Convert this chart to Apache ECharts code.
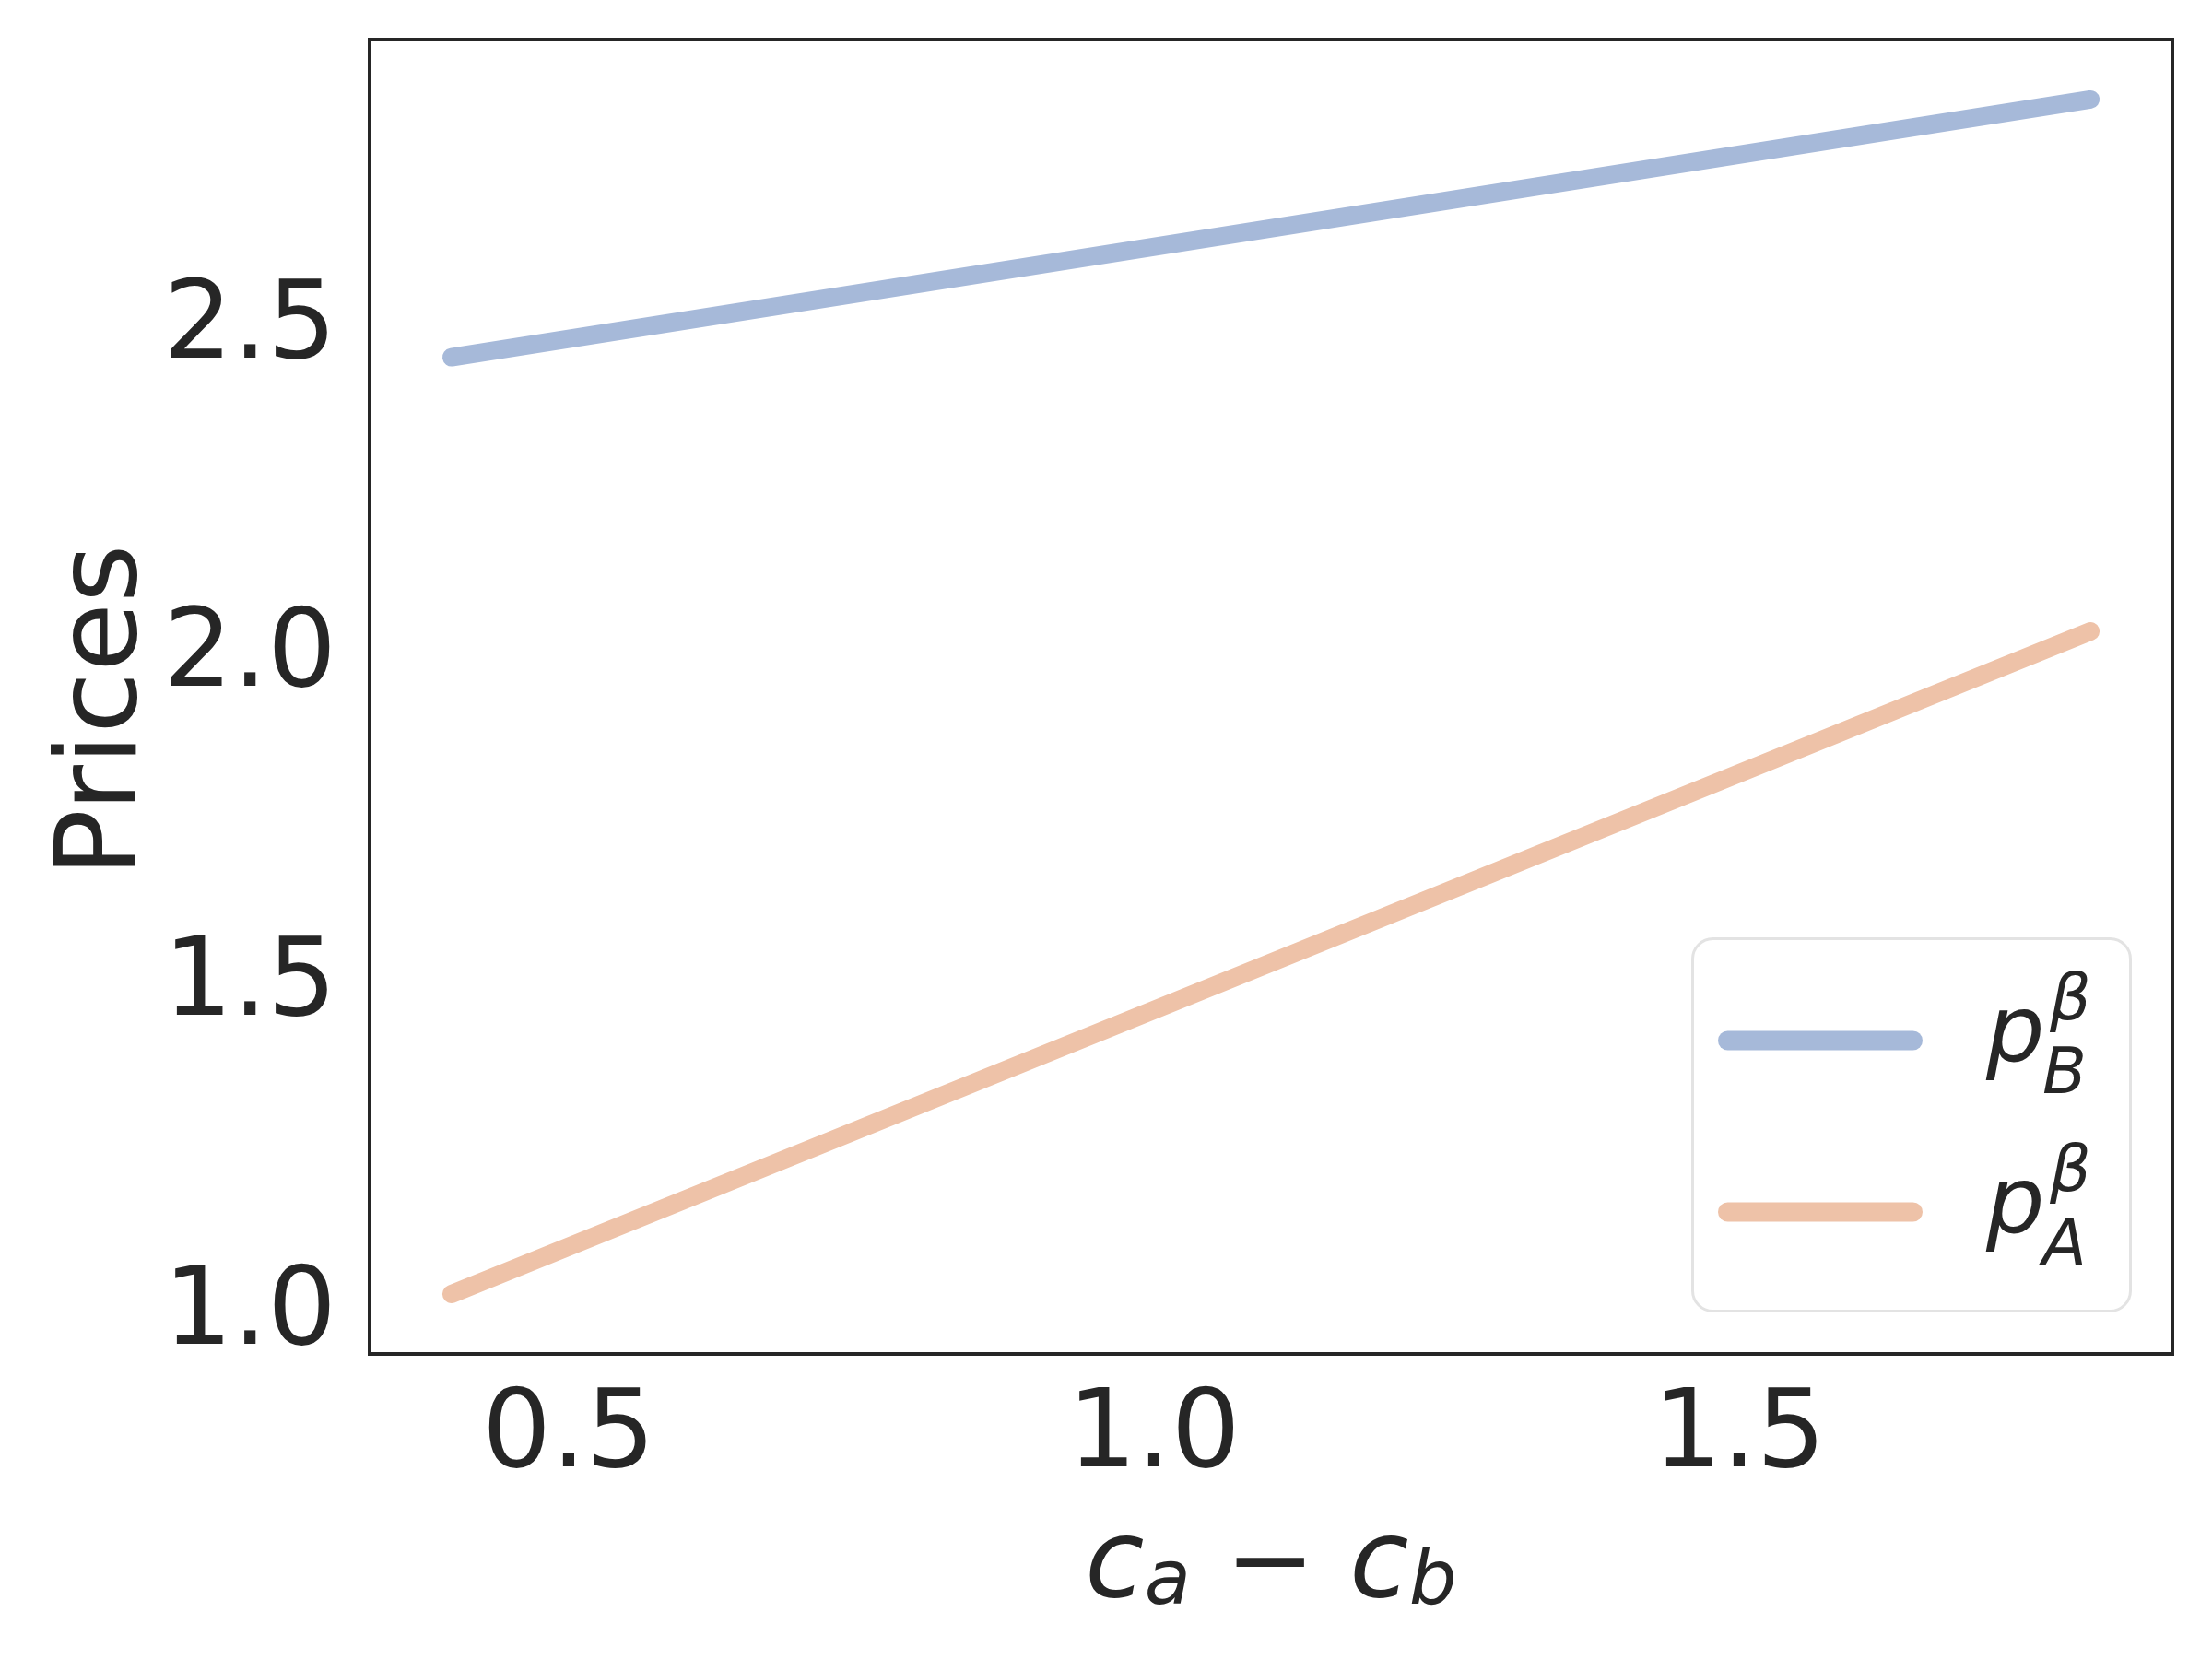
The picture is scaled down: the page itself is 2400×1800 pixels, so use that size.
<!DOCTYPE html>
<html lang="en">
<head>
    <meta charset="UTF-8">
    <script src="https://cdn.jsdelivr.net/npm/echarts@6/dist/echarts.min.js"></script>
    <title>Prices</title>
    <style>
        html, body { margin: 0; padding: 0; background: #ffffff; }
    </style>
</head>
<body>
    <div id="prices-chart" style="width: 2400px;height:1800px;"></div>
</body>
<script type="text/javascript">
    // values
    var costGap = [0.4, 1.8];          // c_a - c_b
    var priceB = [2.436, 2.828];       // p_B^beta
    var priceA = [1.011, 2.019];       // p_A^beta
    var xTicks = [0.5, 1.0, 1.5];
    var yTicks = [1.0, 1.5, 2.0, 2.5];

    var blue = '#a6b9d9';
    var orange = '#eec2a8';
    var ink = '#262626';
    var font = 'DejaVu Sans';

    function pairs(xs, ys) {
        return xs.map(function (x, i) { return [x, ys[i]]; });
    }

    function tickLabel(list, wrap) {
        return function (v) {
            for (var i = 0; i < list.length; i++) {
                if (Math.abs(list[i] - v) < 1e-9) {
                    var s = list[i].toFixed(1);
                    return wrap ? '{v|' + s + '}' : s;
                }
            }
            return '';
        };
    }

    var chart = echarts.init(document.getElementById('prices-chart'));

    // legend label p with stacked super/subscript
    function legendLabel(y, sub) {
        return [
            {type: 'text', left: 2155, top: y - 54, z: 20,
                style: {text: 'p', font: 'oblique 100px "DejaVu Sans"', fill: ink}},
            {type: 'text', left: 2224, top: y - 76, z: 20,
                style: {text: 'β', font: 'oblique 70px "DejaVu Sans"', fill: ink}},
            {type: 'text', left: 2216, top: y + 4, z: 20,
                style: {text: sub, font: 'oblique 70px "DejaVu Sans"', fill: ink}}
        ];
    }

    var legendRow1 = 1129, legendRow2 = 1315;

    chart.setOption({
        backgroundColor: '#ffffff',
        animation: false,
        grid: {
            left: 401, right: 43, top: 43, bottom: 331,
            show: true,
            borderColor: ink,
            borderWidth: 4,
            backgroundColor: 'transparent'
        },
        xAxis: {
            type: 'value',
            min: 0.33,
            max: 1.87,
            splitNumber: 3,
            name: '{i|c}{s|a}{o| − }{i|c}{s|b}',
            nameLocation: 'middle',
            nameGap: 174,
            nameMoveOverlap: false,
            nameTextStyle: {
                color: ink,
                fontFamily: font,
                rich: {
                    i: {fontSize: 117, fontStyle: 'italic', fontFamily: font, color: ink, lineHeight: 117},
                    s: {fontSize: 82, fontStyle: 'italic', fontFamily: font, color: ink, lineHeight: 30, verticalAlign: 'bottom'},
                    o: {fontSize: 117, fontFamily: font, color: ink, lineHeight: 117}
                }
            },
            axisLine: {show: false},
            axisTick: {show: false},
            splitLine: {show: false},
            axisLabel: {
                showMinLabel: false,
                showMaxLabel: false,
                margin: 32,
                fontSize: 118,
                fontFamily: font,
                color: ink,
                formatter: tickLabel(xTicks, false)
            }
        },
        yAxis: {
            type: 'value',
            min: 0.92,
            max: 2.919,
            splitNumber: 4,
            name: 'Prices',
            nameLocation: 'middle',
            nameGap: 225,
            nameMoveOverlap: false,
            nameTextStyle: {fontSize: 122, fontFamily: font, color: ink, padding: [0, 30, 0, 0]},
            axisLine: {show: false},
            axisTick: {show: false},
            splitLine: {show: false},
            axisLabel: {
                showMinLabel: false,
                showMaxLabel: false,
                margin: 36,
                fontSize: 118,
                fontFamily: font,
                color: ink,
                formatter: tickLabel(yTicks, true),
                rich: {
                    v: {fontSize: 118, fontFamily: font, color: ink, padding: [30, 0, 0, 0]}
                }
            }
        },
        legend: {
            orient: 'vertical',
            left: 1864,
            top: legendRow1 - 10.5,
            z: 10,
            itemWidth: 222,
            itemHeight: 21,
            itemGap: legendRow2 - legendRow1 - 21,
            padding: 0,
            selectedMode: false,
            icon: 'path://M10.5,0 H211.5 A10.5,10.5 0 0 1 211.5,21 H10.5 A10.5,10.5 0 0 1 10.5,0 Z',
            formatter: function () { return ''; },
            textStyle: {fontSize: 1},
            data: ['pB', 'pA']
        },
        graphic: [
            {type: 'rect', left: 1835, top: 1017, z: 1,
                shape: {width: 475, height: 404, r: 22},
                style: {fill: '#ffffff', stroke: '#e3e3e3', lineWidth: 3}}
        ].concat(legendLabel(legendRow1, 'B'), legendLabel(legendRow2, 'A')),
        series: [
            {
                name: 'pB',
                type: 'line',
                data: pairs(costGap, priceB),
                showSymbol: false,
                color: blue,
                lineStyle: {width: 20, color: blue, cap: 'round'}
            },
            {
                name: 'pA',
                type: 'line',
                data: pairs(costGap, priceA),
                showSymbol: false,
                color: orange,
                lineStyle: {width: 20, color: orange, cap: 'round'}
            }
        ]
    });
</script>
</html>
